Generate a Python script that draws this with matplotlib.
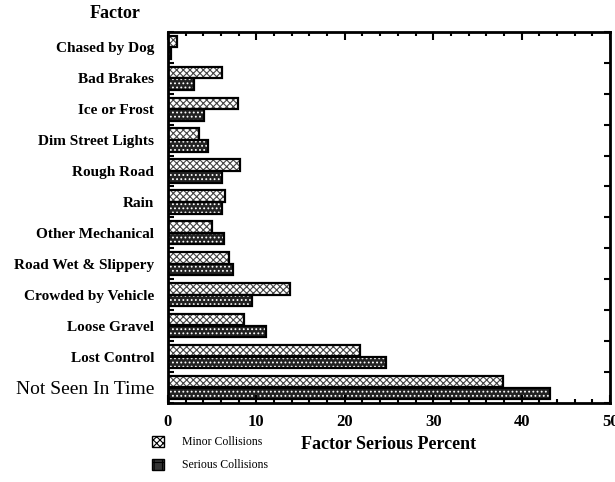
import matplotlib.pyplot as plt
import numpy as np
from matplotlib.patches import Patch

factors = ["Chased by Dog", "Bad Brakes", "Ice or Frost", "Dim Street Lights",
           "Rough Road", "Rain", "Other Mechanical", "Road Wet & Slippery",
           "Crowded by Vehicle", "Loose Gravel", "Lost Control", "Not Seen In Time"]
minor = [1.0, 6.1, 7.9, 3.5, 8.2, 6.5, 5.0, 6.9, 13.8, 8.6, 21.7, 37.9]
serious = [0.3, 3.0, 4.1, 4.5, 6.1, 6.1, 6.3, 7.4, 9.5, 11.1, 24.7, 43.2]

plt.rcParams['font.family'] = ['Liberation Serif', 'DejaVu Serif']
plt.rcParams['hatch.linewidth'] = 0.8

fig = plt.figure(figsize=(6.15, 4.82), dpi=100)
ax = fig.add_axes([0.273, 0.164, 0.719, 0.770])

y = np.arange(len(factors))
h = 0.37
# minor collisions: light crosshatch
ax.barh(y - 0.19, minor, height=h, color="white", edgecolor="#444444",
        hatch="xxxxx", linewidth=0)
ax.barh(y - 0.19, minor, height=h, fill=False, edgecolor="black", linewidth=1.6)
# serious collisions: dark with white dots
ax.barh(y + 0.19, serious, height=h, color="#222222", edgecolor="white",
        hatch="....", linewidth=0)
ax.barh(y + 0.19, serious, height=h, fill=False, edgecolor="black", linewidth=1.6)

ax.set_xlim(0, 50)
ax.set_ylim(len(factors) - 0.5, -0.5)
ax.set_xticks([0, 10, 20, 30, 40, 50])
ax.set_xticks(np.arange(0, 51, 2), minor=True)
ax.set_yticks(np.arange(-0.5, len(factors), 1))
ax.set_yticklabels([])
ax.set_yticks(y, minor=True)
ax.set_yticklabels(factors, minor=True, fontsize=11, fontweight="bold")
ax.get_yticklabels(minor=True)[-1].set_fontsize(14)
ax.get_yticklabels(minor=True)[-1].set_fontweight("normal")
ax.tick_params(axis="y", which="minor", length=0, pad=10)
ax.tick_params(axis="y", which="major", direction="in", length=4, width=1.5,
               right=True)
ax.tick_params(axis="x", which="both", direction="in", top=True, width=1.5)
ax.tick_params(axis="x", which="major", length=6, labelsize=12, pad=8)
ax.tick_params(axis="x", which="minor", length=3)
for lab in ax.get_xticklabels():
    lab.set_fontweight("bold")
for s in ax.spines.values():
    s.set_linewidth(2)

ax.set_xlabel("Factor Serious Percent", fontsize=13, fontweight="bold", labelpad=4)
fig.text(0.187, 0.962, "Factor", fontsize=13, fontweight="bold", ha="center")

handles = [Patch(facecolor="white", edgecolor="black", hatch="xxxxx", label="Minor Collisions"),
           Patch(facecolor="#333333", edgecolor="black", hatch="++", label="Serious Collisions")]
fig.legend(handles=handles, loc="lower left", bbox_to_anchor=(0.23, 0.0),
           frameon=False, prop={"size": 8.5}, handlelength=1.0, handleheight=1.0,
           labelspacing=0.9, handletextpad=1.5)

fig.savefig("out.png", dpi=100)
